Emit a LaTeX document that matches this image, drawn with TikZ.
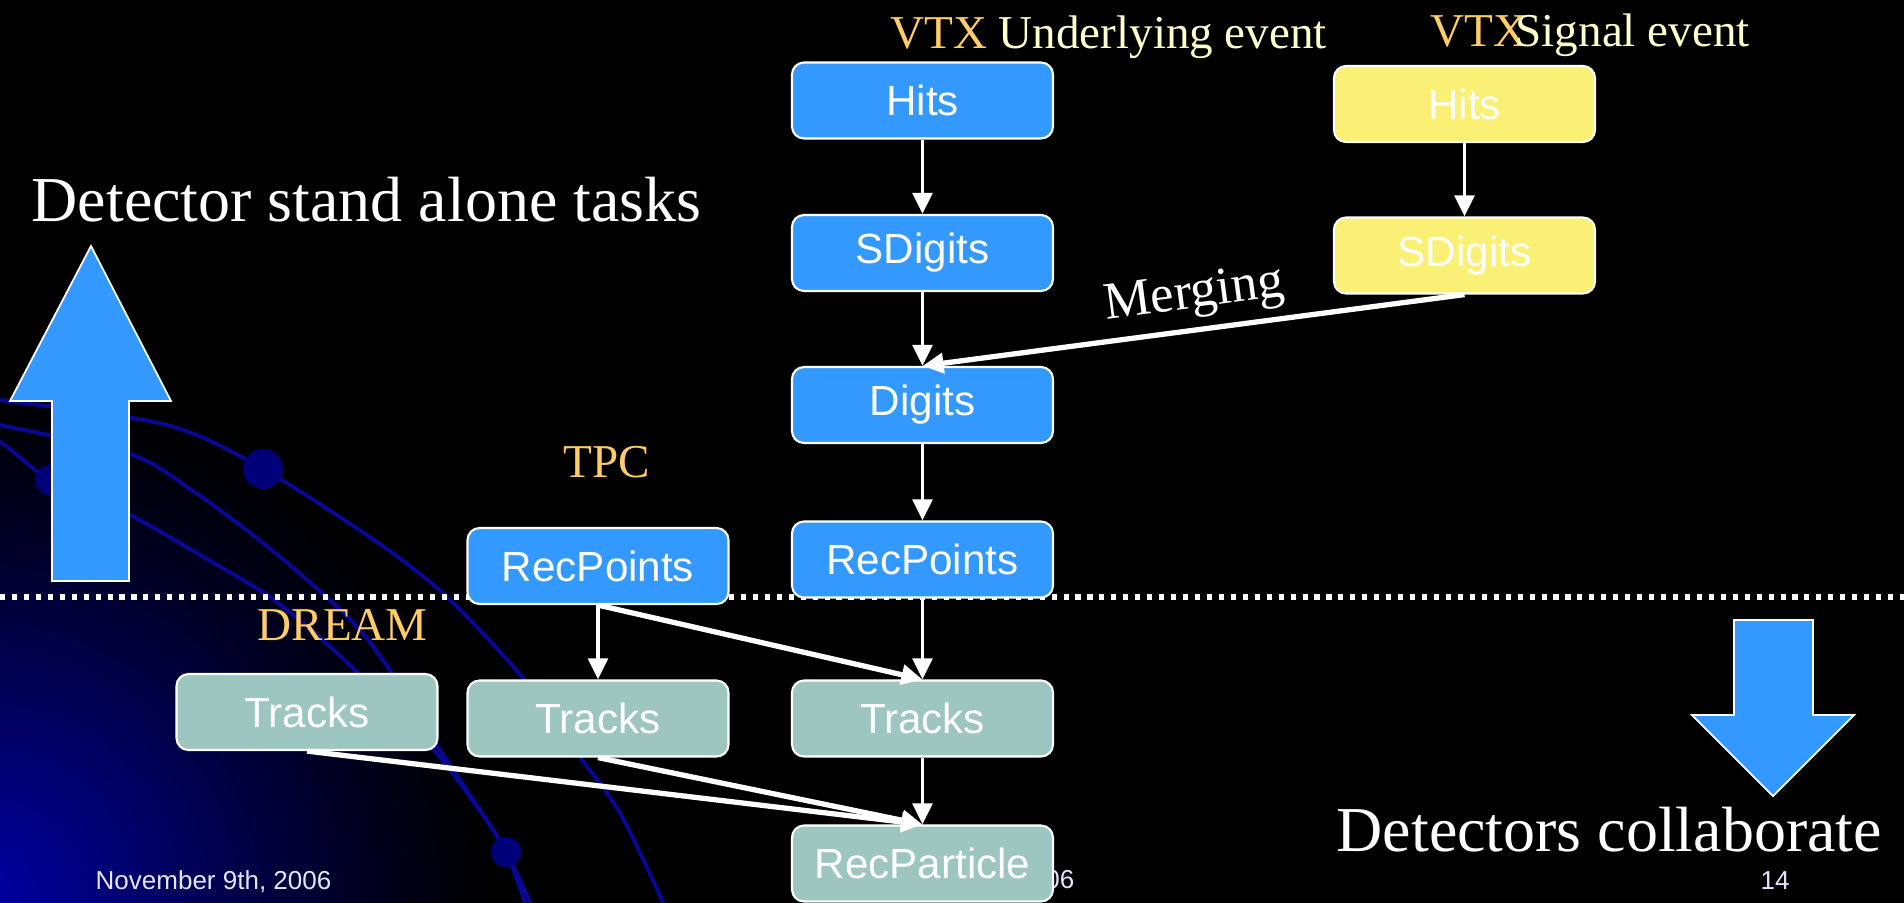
\documentclass[tikz,border=0pt]{standalone}
\usepackage{fontspec}
\setmainfont{Liberation Serif}
\setsansfont{Liberation Sans}
\usetikzlibrary{arrows.meta}

\definecolor{stepblue}{RGB}{51,153,255}
\definecolor{stepyellow}{RGB}{250,240,117}
\definecolor{steptrack}{RGB}{158,198,192}
\definecolor{detorange}{RGB}{255,204,102}
\definecolor{evcream}{RGB}{255,255,204}
\definecolor{orbit}{RGB}{8,8,150}
\definecolor{orbitdot}{RGB}{0,0,120}
\definecolor{glow}{RGB}{0,0,170}
\definecolor{footwhite}{RGB}{228,228,255}

\tikzset{
  stepbox/.style={draw=white, line width=0.6pt, rounded corners=0.12cm,
    minimum width=2.61cm, minimum height=0.76cm, inner sep=0pt,
    text=white, font=\sffamily\fontsize{12}{14}\selectfont},
  detlabel/.style={anchor=base west, inner sep=0pt, text=detorange,
    font=\fontsize{13.4}{16}\selectfont},
  evlabel/.style={anchor=base west, inner sep=0pt, text=evcream,
    font=\fontsize{13.4}{16}\selectfont},
  headline/.style={anchor=base west, inner sep=0pt, text=white,
    font=\fontsize{18.2}{21}\selectfont},
  footer/.style={inner sep=0pt, text=footwhite,
    font=\sffamily\fontsize{7.4}{9}\selectfont},
  flow/.style={->, white, line width=1.1pt},
  merge/.style={->, white, line width=1.5pt},
  bigarrow/.style={fill=stepblue, draw=white, line width=0.5pt}
}

\begin{document}
\begin{tikzpicture}[>={Triangle[length=6pt,width=5.6pt]}]
  \useasboundingbox (0,0) rectangle (19.04,-9.02);
  \fill[black] (-0.2,0.2) rectangle (19.24,-9.22);
  \begin{scope}
    \clip (-0.2,0.2) rectangle (19.24,-9.22);
    % glow in the lower left corner, outer rings first
    \foreach \r in {5.2,5.1,...,0.1} {
      \pgfmathsetmacro\mix{100*(1-\r/5.25)^1.2}
      \fill[glow!\mix!black] (-0.2,-9.05) circle (\r);
    }
    \draw[orbit,line width=1.1pt] plot[smooth] coordinates {(-0.5,-3.95) (0,-4.00) (1.67,-4.25) (2.63,-4.69) (3.77,-5.42) (4.47,-5.97) (5.23,-6.78) (5.80,-7.57) (6.20,-8.13) (6.63,-9.02) (6.75,-9.3)};
    \draw[orbit,line width=1.1pt] plot[smooth] coordinates {(-0.5,-4.15) (0,-4.25) (1.30,-4.54) (1.90,-4.89) (2.53,-5.35) (3.13,-5.85) (3.60,-6.30) (4.00,-6.85) (4.40,-7.50) (4.80,-8.10) (5.06,-8.52) (5.25,-9.02) (5.35,-9.3)};
    \draw[orbit,line width=1.1pt] plot[smooth] coordinates {(-0.5,-4.20) (0,-4.42) (0.50,-4.80) (1.30,-5.15) (2.00,-5.55) (2.67,-5.95) (3.17,-6.35) (3.60,-6.75) (4.33,-7.49) (4.83,-8.15) (5.06,-8.52) (5.30,-9.02) (5.40,-9.3)};
    \fill[orbitdot] (2.63,-4.69) circle (0.2);
    \fill[orbitdot] (5.06,-8.52) circle (0.15);
    \fill[orbitdot] (0.50,-4.80) circle (0.15);
  \end{scope}

  \draw[white,line width=1.45pt,dash pattern=on 1.45pt off 1.95pt] (0,-5.97) -- (19.04,-5.97);

  \filldraw[bigarrow] (0.52,-5.81) -- (0.52,-4.01) -- (0.10,-4.01) -- (0.91,-2.46) -- (1.71,-4.01) -- (1.29,-4.01) -- (1.29,-5.81) -- cycle;
  \filldraw[bigarrow] (17.34,-6.20) -- (18.13,-6.20) -- (18.13,-7.15) -- (18.54,-7.15) -- (17.73,-7.96) -- (16.92,-7.15) -- (17.34,-7.15) -- cycle;

  \node[headline] at (0.31,-2.21) (standalone) {Detector stand alone tasks};
  \node[headline] at (13.36,-8.51) (collab) {Detectors collaborate};

  \node[detlabel] at (8.90,-0.48) (vtxa) {VTX};
  \node[evlabel] at (9.98,-0.48) (uevent) {Underlying event};
  \node[detlabel] at (14.30,-0.46) (vtxb) {VTX};
  \node[evlabel] at (15.15,-0.46) (sevent) {Signal event};
  \node[detlabel] at (5.63,-4.77) (tpc) {TPC};
  \node[detlabel] at (2.57,-6.40) (dream) {DREAM};

  \node[footer,anchor=base west] at (0.95,-8.89) (fdate) {November 9th, 2006};
  \node[footer,anchor=base east] at (10.75,-8.88) (fyear) {06};
  \node[footer,anchor=base west] at (17.60,-8.89) (fpage) {14};

  \node[stepbox,fill=stepblue] at (9.225,-1.005) (vhits) {Hits};
  \node[stepbox,fill=stepblue] at (9.225,-2.53) (vsdig) {SDigits};
  \node[stepbox,fill=stepblue] at (9.225,-4.05) (vdig) {Digits};
  \node[stepbox,fill=stepblue] at (9.225,-5.595) (vrec) {RecPoints};
  \node[stepbox,fill=steptrack] at (9.225,-7.185) (vtrk) {Tracks};
  \node[stepbox,fill=steptrack] at (9.225,-8.635) (recpart) {RecParticle};
  \node[stepbox,fill=stepyellow] at (14.645,-1.04) (shits) {Hits};
  \node[stepbox,fill=stepyellow] at (14.645,-2.555) (ssdig) {SDigits};
  \node[stepbox,fill=stepblue] at (5.98,-5.66) (trec) {RecPoints};
  \node[stepbox,fill=steptrack] at (5.98,-7.185) (ttrk) {Tracks};
  \node[stepbox,fill=steptrack] at (3.07,-7.12) (dtrk) {Tracks};

  \draw[flow] (vhits) -- (vsdig);
  \draw[flow] (vsdig) -- (vdig);
  \draw[flow] (vdig) -- (vrec);
  \draw[flow] (vrec) -- (vtrk);
  \draw[flow] (vtrk) -- (recpart);
  \draw[flow] (shits) -- (ssdig);
  \draw[flow] (trec) -- (ttrk);
  \draw[merge] (ssdig.south) -- node[pos=0.49,sloped,above=-1pt,text=white,font=\fontsize{15}{18}\selectfont] (mlabel) {Merging} (vdig.north);
  \draw[merge] (trec.south) -- (vtrk.north);
  \draw[merge] (ttrk.south) -- (recpart.north);
  \draw[merge] (dtrk.south) -- (recpart.north);
\end{tikzpicture}
\end{document}
